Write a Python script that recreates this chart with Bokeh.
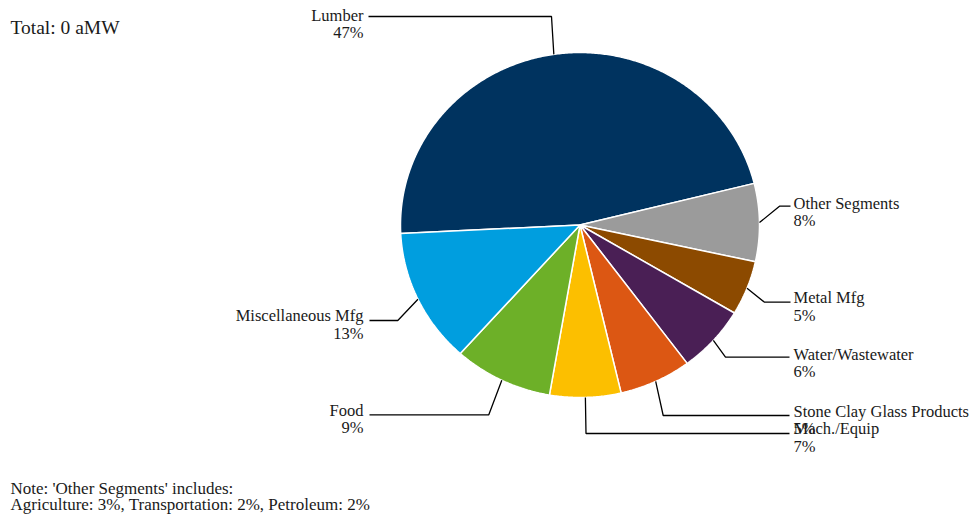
import math
from bokeh.plotting import figure
from bokeh.models import ColumnDataSource, Range1d
from bokeh.embed import file_html
from bokeh.resources import INLINE
from bokeh.core.properties import value

# ---------------- data ----------------
categories = ["Lumber", "Other Segments", "Metal Mfg", "Water/Wastewater",
              "Stone Clay Glass Products", "Mach./Equip", "Food", "Miscellaneous Mfg"]
shares = [46.9, 7.3, 5.1, 6.3, 6.5, 6.4, 8.9, 12.6]
pct_labels = ["47%", "8%", "5%", "6%", "5%", "7%", "9%", "13%"]
colors = ["#00335F", "#9B9B9B", "#8C4A00", "#4A1F55",
          "#DC5713", "#FCBF00", "#6DB028", "#009EDF"]
total_text = "Total: 0 aMW"
note_lines = ["Note: 'Other Segments' includes:",
              "Agriculture: 3%, Transportation: 2%, Petroleum: 2%"]

# ---------------- layout ----------------
CX, CY, RX, RY = 579.5, 224.5, 179.5, 172.5
START_DEG = 182.8  # first slice starts here, slices run clockwise
FONT = "Liberation Serif"
TXT = "#1a1a1a"
# per label: elbow x, horizontal line y, line end x, text x, name y, side
elbow_x = [551, 779, 764, 725, 662.7, 585.5, 488.3, 397.3]
line_y = [16, 205.7, 301.7, 356.7, 415, 433, 414.3, 320]
end_x = [368, 790, 790, 789, 789, 789, 369, 369]
text_x = [363, 793, 793, 793, 793, 793, 363, 363]
name_y = [14.5, 202.5, 297, 353.5, 410.5, 428, 409.5, 315]
side = ["left", "right", "right", "right", "right", "right", "left", "left"]

W, H = 973, 516
p = figure(width=W, height=H, output_backend="svg", toolbar_location=None,
           x_range=Range1d(0, W), y_range=Range1d(H, 0),
           x_axis_type=None, y_axis_type=None, min_border=0,
           outline_line_color=None, background_fill_color="white")
p.xgrid.visible = False
p.ygrid.visible = False

# ---------------- pie slices ----------------
total = sum(shares)
xs, ys, mids = [], [], []
cum = 0.0
for s in shares:
    a0 = START_DEG - cum / total * 360.0
    a1 = START_DEG - (cum + s) / total * 360.0
    n = max(4, int(abs(a0 - a1) * 2))
    px, py = [CX], [CY]
    for i in range(n + 1):
        a = math.radians(a0 + (a1 - a0) * i / n)
        px.append(CX + RX * math.cos(a))
        py.append(CY - RY * math.sin(a))
    xs.append(px)
    ys.append(py)
    mids.append(math.radians((a0 + a1) / 2))
    cum += s

p.patches(xs="xs", ys="ys", fill_color="color", line_color="white", line_width=1.5,
          source=ColumnDataSource(dict(xs=xs, ys=ys, color=colors)))

# ---------------- leader lines ----------------
lx, ly = [], []
for i, m in enumerate(mids):
    ex = CX + RX * math.cos(m)
    ey = CY - RY * math.sin(m)
    lx.append([ex, elbow_x[i], end_x[i]])
    ly.append([ey, line_y[i], line_y[i]])
p.multi_line(xs=lx, ys=ly, line_color="black", line_width=1.3)

# ---------------- labels ----------------
for align in ("left", "right"):
    idx = [i for i in range(len(categories)) if side[i] == align]
    src = ColumnDataSource(dict(
        x=[text_x[i] for i in idx],
        y=[name_y[i] for i in idx],
        y2=[name_y[i] + 17.5 for i in idx],
        name=[categories[i] for i in idx],
        pct=[pct_labels[i] for i in idx]))
    ta = "right" if align == "left" else "left"
    p.text(x="x", y="y", text="name", source=src, text_align=ta,
           text_baseline="middle", text_font=value(FONT),
           text_font_size="16.5px", text_color=TXT)
    p.text(x="x", y="y2", text="pct", source=src, text_align=ta,
           text_baseline="middle", text_font=value(FONT),
           text_font_size="16.5px", text_color=TXT)

p.text(x=[10], y=[26.5], text=[total_text], text_align="left",
       text_baseline="middle", text_font=value(FONT),
       text_font_size="19.5px", text_color=TXT)
p.text(x=[10, 10], y=[488, 504], text=note_lines, text_align="left",
       text_baseline="middle", text_font=value(FONT),
       text_font_size="17px", text_color=TXT)

open("out.html", "w").write(file_html(p, INLINE))
